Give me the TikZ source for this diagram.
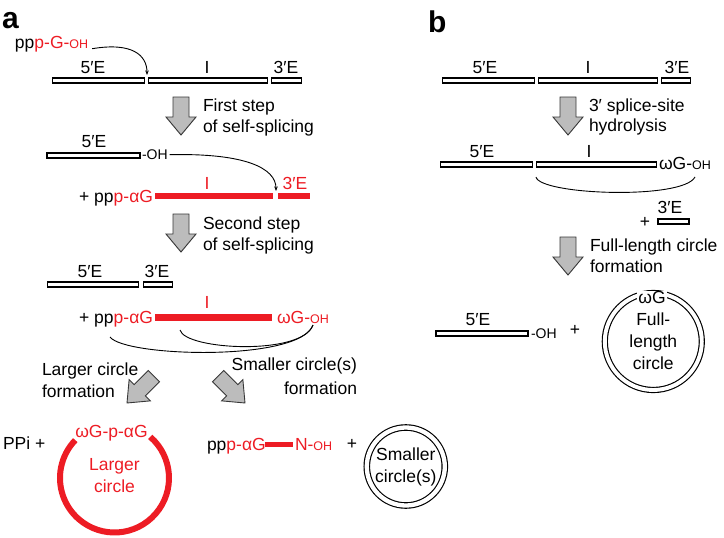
\documentclass[tikz,border=0pt]{standalone}
\usepackage{fontspec}
\setmainfont{Liberation Sans}
\usetikzlibrary{arrows.meta}
\definecolor{rnared}{RGB}{237,28,36}
\definecolor{arrowgray}{RGB}{188,188,188}
\definecolor{arrowline}{RGB}{55,55,55}
\newcommand{\smtxt}[1]{{\fontsize{12.5}{14}\selectfont #1}}
\tikzset{
  blockarr/.pic={\draw[line width=0.9pt, fill=arrowgray, draw=arrowline]
     (0,0) -- (15,-18) -- (8,-18) -- (8,-38) -- (-8,-38) -- (-8,-18) -- (-15,-18) -- cycle;},
  exon/.style={draw=black, line width=1.15pt, fill=white, minimum height=5pt, rectangle},
  redbar/.style={fill=rnared, draw=none, rectangle, minimum height=6.5pt},
  lbl/.style={anchor=base},
  conn/.style={line width=0.9pt, draw=black},
  tipped/.style={-{Stealth[length=4.5pt,width=3.5pt]}},
  panel/.style={font=\fontsize{30}{30}\selectfont\bfseries, anchor=base west},
  dcirc/.style={circle, draw=black, double=white, line width=1.15pt, align=center},
}
\begin{document}
\begin{tikzpicture}[x=1pt,y=-1pt,
  every node/.style={inner sep=0pt, outer sep=0pt, font=\fontsize{17.5}{22}\selectfont}]
\useasboundingbox (0,0) rectangle (724,538);

% ---------------- panel a ----------------
\node[panel] (lblA) at (2,28) {a};
\node[anchor=base west] (pppG) at (15,48) {pp\textcolor{rnared}{p-G-\smtxt{OH}}};
\node[lbl] (l5a) at (93,73) {5′E};
\node[lbl] (lIa) at (207,73) {I};
\node[lbl] (l3a) at (286,73) {3′E};
\node[exon, minimum width=92pt] (e5a) at (98.5,80.5) {};
\node[exon, minimum width=119pt] (ia) at (208,80.5) {};
\node[exon, minimum width=30pt] (e3a) at (286.5,80.5) {};
\coordinate (tipA1) at (147,75);
\draw[conn, tipped] ([xshift=4pt,yshift=-5pt]pppG.east) .. controls (132,42) and (147,55) .. (tipA1);

\pic at (181,135) {blockarr};
\node[anchor=base west] (t1a) at (203,111) {First step};
\node[anchor=base west] (t1b) at (203,132) {of self-splicing};

% row a2
\node[lbl] (l5b) at (94,147) {5′E};
\node[exon, minimum width=93pt] (e5b) at (93.5,155.5) {};
\node[anchor=base west, font=\fontsize{14}{16}\selectfont] (ohb) at (142,159.5) {-OH};
\node[redbar, minimum width=118pt] (ib) at (214,196) {};
\node[redbar, minimum width=32pt] (e3b) at (294,196) {};
\node[anchor=base east] (pppb) at (153,202) {+ pp\textcolor{rnared}{p-αG}};
\node[lbl, text=rnared] (lIb) at (207,189) {I};
\node[lbl, text=rnared] (l3b) at (295,189) {3′E};
\coordinate (tipA2) at (276,191);
\draw[conn, tipped] ([xshift=2pt]ohb.east) .. controls (245,153) and (276,168) .. (tipA2);

\pic at (181,252) {blockarr};
\node[anchor=base west] (t2a) at (203,229) {Second step};
\node[anchor=base west] (t2b) at (203,250) {of self-splicing};

% row a3
\node[lbl] (l5c) at (90,277) {5′E};
\node[lbl] (l3c) at (157,277) {3′E};
\node[exon, minimum width=91pt] (e5c) at (93,284.5) {};
\node[exon, minimum width=29pt] (e3c) at (158,284.5) {};
\node[redbar, minimum width=117pt] (ic) at (213.5,317.5) {};
\node[anchor=base east] (pppc) at (153,323) {+ pp\textcolor{rnared}{p-αG}};
\node[anchor=base west, text=rnared] (wgc) at (277,323) {ωG-\smtxt{OH}};
\node[lbl, text=rnared] (lIc) at (207,308) {I};
\coordinate (c1s) at (110,337);
\coordinate (c2s) at (180,330);
\coordinate (cend) at (313,325);
\draw[conn] (c1s) .. controls (125,357) and (300,362) .. (cend);
\draw[conn] (c2s) .. controls (185,350) and (302,356) .. (cend);

\pic[rotate=-45] at (127,403) {blockarr};
\pic[rotate=45] at (245,403) {blockarr};
\node[anchor=base west] (tl1) at (42,375) {Larger circle};
\node[anchor=base west] (tl2) at (42,397) {formation};
\node[anchor=base east] (ts1) at (357,370) {Smaller circle(s)};
\node[anchor=base east] (ts2) at (357,394) {formation};

% row a4
\node[anchor=base west] (ppi) at (3,449) {PPi +};
\coordinate (lcc) at (114.5,478);
\draw[rnared, line width=6pt] ([shift={(-49:54.5)}]lcc) arc[start angle=-49, end angle=224, radius=54.5];
\node[align=center, text=rnared] (lc) at (114.5,476) {Larger\\circle};
\node[anchor=base, text=rnared] (wgpag) at (111.5,437) {ωG-p-αG};
\node[anchor=base west] (pppd) at (207,450) {pp\textcolor{rnared}{p-αG}};
\node[redbar, minimum width=28pt, minimum height=5pt] (nbar) at (279,444) {};
\node[anchor=base west, text=rnared] (noh) at (295,450) {N-\smtxt{OH}};
\node (plusd) at (352,444) {+};
\node[dcirc, double distance=4.3pt, minimum size=78pt] (sc) at (405.8,466.5) {Smaller\\circle(s)};

% ---------------- panel b ----------------
\node[panel] (lblB) at (428,32) {b};
\node[lbl] (m5a) at (485,73) {5′E};
\node[lbl] (mIa) at (588,73) {I};
\node[lbl] (m3a) at (677,73) {3′E};
\node[exon, minimum width=92pt] (f5a) at (488.5,80.5) {};
\node[exon, minimum width=119pt] (fia) at (598,80.5) {};
\node[exon, minimum width=29pt] (f3a) at (676,80.5) {};

\pic at (568,135) {blockarr};
\node[anchor=base west] (u1a) at (589,111) {3′ splice-site};
\node[anchor=base west] (u1b) at (589,131) {hydrolysis};

% row b2
\node[lbl] (m5b) at (482,157) {5′E};
\node[lbl] (mIb) at (589,157) {I};
\node[exon, minimum width=92pt] (f5b) at (486.5,164.5) {};
\node[exon, minimum width=120pt] (fib) at (596.5,164.5) {};
\node[anchor=base west] (wgb) at (659,169) {ωG-\smtxt{OH}};
\coordinate (bcs) at (536,177);
\coordinate (bce) at (695,177);
\draw[conn] (bcs) .. controls (540,195) and (683,200) .. (bce);
\node[lbl] (m3b) at (670,213) {3′E};
\node (plusb) at (645,222) {+};
\node[exon, minimum width=31pt] (f3b) at (673.5,221.5) {};

\pic at (568,275) {blockarr};
\node[anchor=base west] (u2a) at (590,251) {Full-length circle};
\node[anchor=base west] (u2b) at (590,272) {formation};

% row b3
\node[lbl] (m5c) at (478,325) {5′E};
\node[exon, minimum width=92pt] (f5c) at (482,333.5) {};
\node[anchor=base west, font=\fontsize{14}{16}\selectfont] (ohc) at (531,338.5) {-OH};
\node (plusc) at (575,330) {+};
\node[dcirc, double distance=3.9pt, minimum size=97pt] (flc) at (653.3,341.5) {Full-\\length\\circle};
\node[fill=white, inner xsep=1.5pt, inner ysep=0pt] (wgf) at (652,297) {ωG};
\end{tikzpicture}
\end{document}
